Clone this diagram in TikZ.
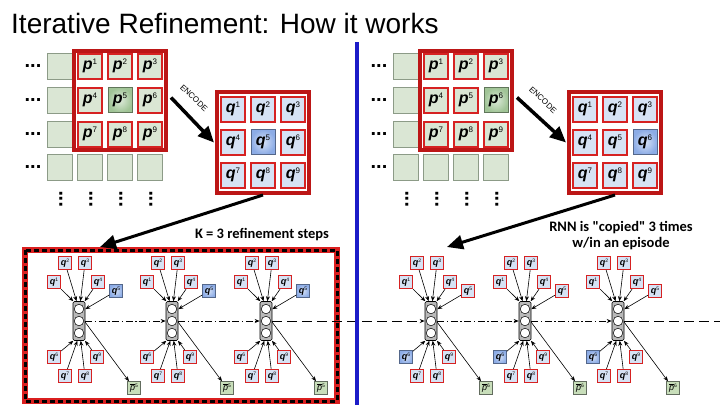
\documentclass[tikz,border=0pt]{standalone}
\usepackage{fontspec}
\setmainfont{Liberation Sans}
\newfontfamily\calib{Carlito}
\usetikzlibrary{arrows.meta,calc}
\definecolor{pfill}{RGB}{218,230,212}
\definecolor{phl}{RGB}{160,196,150}
\definecolor{qfill}{RGB}{214,226,244}
\definecolor{qhl}{RGB}{140,172,230}
\definecolor{cellred}{RGB}{214,34,34}
\definecolor{framered}{RGB}{188,22,22}
\definecolor{sepblue}{RGB}{28,28,200}
\definecolor{blankedge}{RGB}{140,155,135}
\definecolor{pbfill}{RGB}{200,222,186}

\newcommand{\biglab}[2]{{\fontsize{16}{16}\selectfont\bfseries\itshape #1}\raisebox{5.5pt}{\fontsize{8}{8}\selectfont #2}}
\newcommand{\smlab}[1]{{\fontsize{9}{9}\selectfont\bfseries\itshape q}\raisebox{3.5pt}{\fontsize{5}{5}\selectfont #1}}
\newcommand{\pblab}[1]{\(\overline{\mbox{\fontsize{9}{9}\selectfont\itshape p}}\)\raisebox{3.5pt}{\fontsize{5}{5}\selectfont #1}}

\tikzset{
 blank/.style={rectangle, minimum width=25pt, minimum height=26pt, fill=pfill, draw=blankedge, line width=0.6pt, inner sep=0pt},
 pframe/.style={rectangle, minimum width=92pt, minimum height=99pt, draw=framered, line width=4pt, fill=white, inner sep=0pt},
 pcell/.style={rectangle, minimum width=24pt, minimum height=25pt, fill=pfill, draw=cellred, line width=2pt, inner sep=0pt},
 pcellhl/.style={rectangle, minimum width=24pt, minimum height=25pt, inner color=phl!35, outer color=phl, draw=phl!60!black, line width=0.6pt, inner sep=0pt},
 qcell/.style={rectangle, minimum width=24pt, minimum height=25pt, fill=qfill, draw=cellred, line width=2pt, inner sep=0pt},
 qcellhl/.style={rectangle, minimum width=24pt, minimum height=25pt, inner color=qhl!35, outer color=qhl, draw=qhl!60!black, line width=0.6pt, inner sep=0pt},
 qs/.style={rectangle, minimum size=13pt, fill=qfill, draw=cellred, line width=1.3pt, inner sep=0pt},
 qsh/.style={rectangle, minimum size=13pt, inner color=qhl!40, outer color=qhl, draw=qhl!60!black, line width=0.5pt, inner sep=0pt},
 pbx/.style={rectangle, minimum size=13pt, fill=pbfill, draw=blankedge!70!black, line width=0.6pt, inner sep=0pt},
 unitbox/.style={rectangle, rounded corners=1.5pt, minimum width=12pt, minimum height=39pt, fill=gray!55, draw=black, line width=0.6pt, inner sep=0pt},
 ucirc/.style={circle, minimum size=9.5pt, inner sep=0pt, fill=white, draw=black, line width=0.5pt},
 sarrow/.style={-{Stealth[length=5pt,width=4pt]}, line width=0.6pt},
 bigarrow/.style={-{Triangle[length=16pt,width=14pt]}, line width=3.5pt},
 dashdot/.style={dash pattern=on 7pt off 2.5pt on 1.5pt off 2.5pt, line width=0.7pt, -{Stealth[length=5pt,width=4pt]}},
 longdash/.style={dash pattern=on 10pt off 5pt, line width=0.8pt},
 hdots/.style={font=\bfseries\fontsize{20}{20}\selectfont, inner sep=0pt},
 vdots/.style={hdots, rotate=90},
 note/.style={font=\calib\bfseries\fontsize{14.5}{16}\selectfont, align=center, inner sep=0pt},
}

\newcommand{\pgrid}[3]{%
 \foreach \r/\y in {1/66,2/100,3/134,4/167} \node[blank] (#1b\r) at (60+#2,\y) {};
 \foreach \c/\x in {1/90,2/120,3/150} \node[blank] (#1bb\c) at (\x+#2,167) {};
 \node[pframe] (#1pf) at (120+#2,100.5) {};
 \foreach \r/\y in {0/66,1/100,2/134}{\foreach \c/\x in {1/90,2/120,3/150}{%
   \pgfmathtruncatemacro\k{3*\r+\c}%
   \ifnum\k=#3 \node[pcellhl] (#1p\k) at (\x+#2,\y) {\biglab{p}{\k}};%
   \else \node[pcell] (#1p\k) at (\x+#2,\y) {\biglab{p}{\k}};\fi}}
 \foreach \y in {66,100,134,167} \node[hdots] (#1h\y) at (33+#2,\y) {...};
 \foreach \x in {60,90,120,150} \node[vdots] (#1v\x) at (\x+#2+1,199) {...};
}

\newcommand{\qgrid}[3]{%
 \node[pframe, minimum height=101pt] (#1qf) at (263+#2,142.5) {};
 \foreach \r/\y in {0/109,1/142,2/175}{\foreach \c/\x in {1/233,2/263,3/293}{%
   \pgfmathtruncatemacro\k{3*\r+\c}%
   \ifnum\k=#3 \node[qcellhl] (#1q\k) at (\x+#2,\y) {\biglab{q}{\k}};%
   \else \node[qcell] (#1q\k) at (\x+#2,\y) {\biglab{q}{\k}};\fi}}
}

\newcommand{\ugroup}[4]{%
 \node[unitbox] (#1) at (#2,321) {};
 \node[ucirc] (#1c1) at (#2,309) {};
 \node[ucirc] (#1c2) at (#2,321) {};
 \node[ucirc] (#1c3) at (#2,333) {};
 \foreach \k/\dx/\dy/\ang in {1/-25/-39/106, 2/-14/-58/97, 3/6/-58/86, 4/19/-39/74, 5/37/-30/62, 6/-25/36/254, 7/-14/55/265, 8/6/55/275, 9/18/36/287}{%
   \ifnum\k=#3 \node[qsh] (#1q\k) at (#2+\dx,321+\dy) {\smlab{\k}};%
   \else \node[qs] (#1q\k) at (#2+\dx,321+\dy) {\smlab{\k}};\fi
   \draw[sarrow] (#1q\k) -- (#1.\ang);
 }
 \node[pbx] (#1pb) at (#2+55,388) {\pblab{#4}};
 \draw[sarrow] (#1.-12) -- (#1pb);
}

\begin{document}
\begin{tikzpicture}[x=1pt,y=-1pt]
\useasboundingbox (0,0) rectangle (720,405);
\fill[white] (0,0) rectangle (720,405);

\node[anchor=base west, inner sep=0pt, font=\fontsize{28}{30}\selectfont] (title) at (11,33) {Iterative Refinement: How it works};

% left panel
\pgrid{L}{0}{5}
\qgrid{L}{0}{5}
\node[rotate=-43, inner sep=0pt, font=\fontsize{8}{8}\selectfont] (Lenc) at (194,98) {ENCODE};
\draw[bigarrow] ($(Lpf.east)+(3,-3)$) -- ($(Lqf.west)+(-1,0)$);

% right panel
\pgrid{R}{346}{6}
\qgrid{R}{352}{6}
\node[rotate=-43, inner sep=0pt, font=\fontsize{8}{8}\selectfont] (Renc) at (543,100) {ENCODE};
\draw[bigarrow] ($(Rpf.east)+(3,-3)$) -- ($(Rqf.west)+(-1,0)$);

% dashed frame
\draw[cellred!90!red, line width=6pt] (25,250) rectangle (337,401);
\draw[black, line width=3pt, dash pattern=on 5pt off 3pt] (25,250) rectangle (337,401);

\node[note] (ktxt) at (262,235) {K = 3 refinement steps};
\node[note] (rtxt) at (621,236) {RNN is "copied" 3 times\\w/in an episode};

\coordinate (Ltip) at (100,247);
\coordinate (Rtip) at (447,247);
\draw[bigarrow, line width=3pt] (Lqf.south) -- (Ltip);
\draw[bigarrow, line width=3pt] (Rqf.south) -- (Rtip);

% RNN units
\ugroup{LA}{79}{5}{5}
\ugroup{LB}{172}{5}{5}
\ugroup{LC}{266}{5}{5}
\ugroup{RA}{431}{6}{6}
\ugroup{RB}{525}{6}{6}
\ugroup{RC}{618}{6}{6}

\draw[dashdot] (LA.east) -- (LB.west);
\draw[dashdot] (LB.east) -- (LC.west);
\draw[longdash, -{Stealth[length=5pt,width=4pt]}] (LC.east) -- (RA.west);
\draw[dashdot] (RA.east) -- (RB.west);
\draw[dashdot] (RB.east) -- (RC.west);
\coordinate (Rend) at (720,321);
\draw[longdash] (RC.east) -- (Rend);

% separator
\draw[sepblue, line width=3.5pt] (357,42) -- (357,405);
\end{tikzpicture}
\end{document}
